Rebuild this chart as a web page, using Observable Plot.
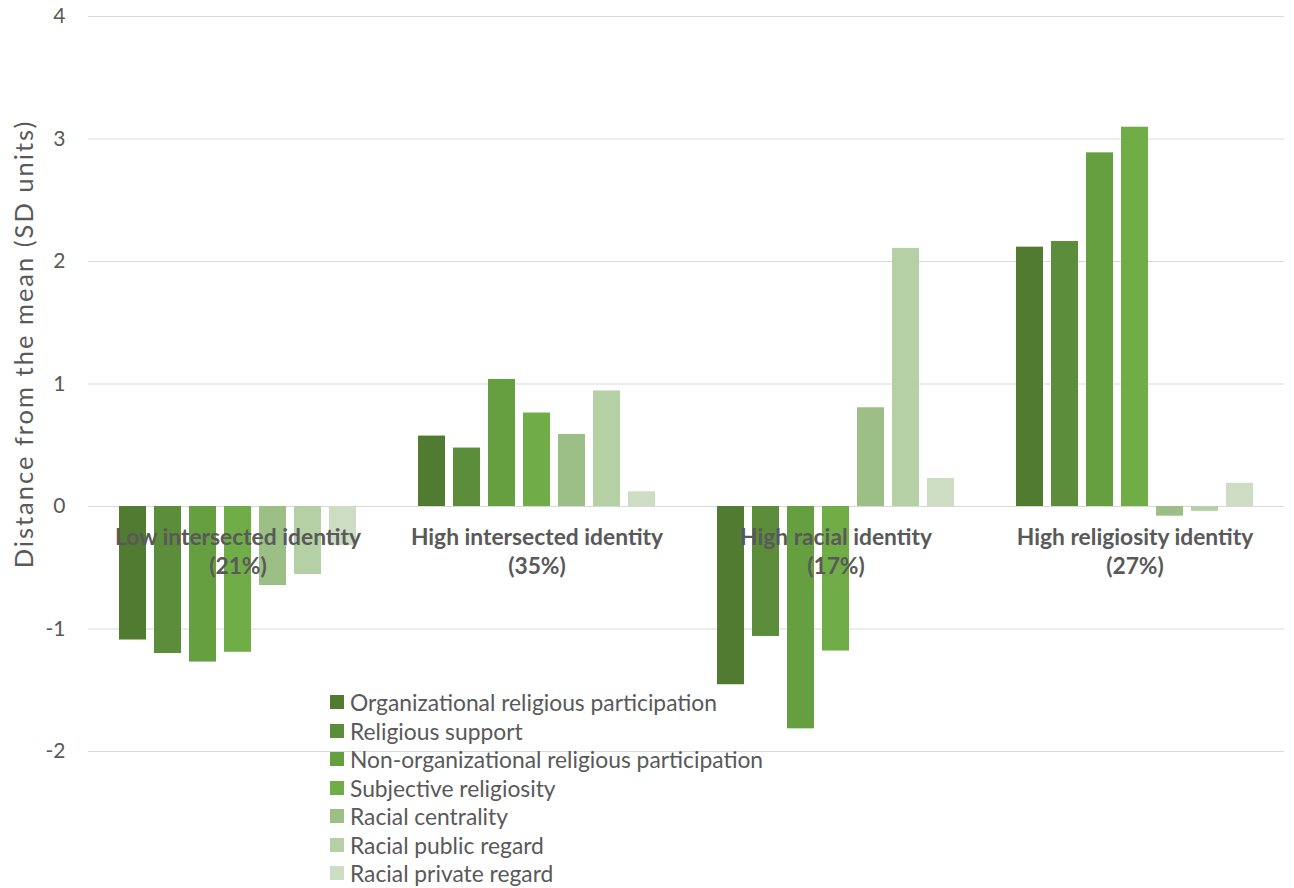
<!DOCTYPE html>
<html>
<head>
<meta charset="utf-8">
<script src="https://cdn.jsdelivr.net/npm/d3@7"></script>
<script src="https://cdn.jsdelivr.net/npm/@observablehq/plot@0.6"></script>
<style>
  html, body { margin: 0; padding: 0; background: #fff; }
  #wrap { position: relative; width: 1294px; height: 888px; font-family: Lato, "Open Sans", sans-serif; }
  #chart { position: absolute; left: 0; top: 0; }
  #ytitle { position: absolute; left: 23px; top: 344px; transform: translate(-50%, -50%) rotate(-90deg); white-space: nowrap; font-size: 25.5px; letter-spacing: 2px; color: #595959; }
  #legend { position: absolute; left: 330px; top: 688px; font-size: 22.8px; color: #595959; }
  .lg-item { display: flex; align-items: center; height: 28.5px; }
  .lg-sw { width: 14px; height: 14px; margin-right: 6px; }
</style>
</head>
<body>
<div id="wrap">
  <div id="chart"></div>
  <div id="ytitle"></div>
  <div id="legend"></div>
</div>
<script>
const groups = [
  "Low intersected identity\n(21%)",
  "High intersected identity\n(35%)",
  "High racial identity\n(17%)",
  "High religiosity identity\n(27%)"
];
const series = [
  "Organizational religious participation",
  "Religious support",
  "Non-organizational religious participation",
  "Subjective religiosity",
  "Racial centrality",
  "Racial public regard",
  "Racial private regard"
];
const colors = ["#507B31", "#5B8D3A", "#669F40", "#70AD47", "#9BBF85", "#B5D0A5", "#CCDDC3"];
// values per group, in series order
const lowIntersected = [-1.09, -1.20, -1.27, -1.19, -0.645, -0.555, -0.32];
const highIntersected = [0.575, 0.477, 1.037, 0.763, 0.588, 0.943, 0.12];
const highRacial = [-1.455, -1.061, -1.815, -1.18, 0.806, 2.107, 0.229];
const highReligiosity = [2.117, 2.163, 2.887, 3.096, -0.079, -0.04, 0.19];
const yTicks = [-2, -1, 0, 1, 2, 3, 4];
const yTitle = "Distance from the mean (SD units)";

const valueSets = [lowIntersected, highIntersected, highRacial, highReligiosity];
const rows = [];
groups.forEach((g, gi) => series.forEach((s, si) => rows.push({group: g, series: s, value: valueSets[gi][si]})));

const chart = Plot.plot({
  width: 1294,
  height: 888,
  marginLeft: 88,
  marginRight: 10,
  marginTop: 16,
  marginBottom: 137,
  style: {fontFamily: "Lato, 'Open Sans', sans-serif", fontSize: "21px", color: "#595959", background: "#fff"},
  fx: {domain: groups, padding: 0, axis: null},
  x: {domain: series, paddingInner: 0.235, paddingOuter: 0.85, axis: null},
  y: {domain: [-2, 4], ticks: yTicks, label: null},
  color: {domain: series, range: colors},
  marks: [
    Plot.gridY(yTicks, {stroke: "#d9d9d9", strokeOpacity: 1, strokeWidth: 1}),
    Plot.axisY(yTicks, {tickSize: 0, tickPadding: 23, fontSize: 21, fill: "#595959", tickFormat: d => d < 0 ? "-" + Math.abs(d) : String(d), label: null}),
    Plot.barY(rows, {fx: "group", x: "series", y: "value", fill: "series"}),
    Plot.text(groups, {fx: d => d, y: 0, text: d => d, lineAnchor: "top", dy: 17, lineHeight: 1.3, fontWeight: "bold", fontSize: 22.8, fill: "#595959"})
  ]
});
document.getElementById("chart").appendChild(chart);
document.getElementById("ytitle").textContent = yTitle;

const colorScale = chart.scale("color");
const leg = document.getElementById("legend");
colorScale.domain.forEach((s, i) => {
  const item = document.createElement("div");
  item.className = "lg-item";
  const sw = document.createElement("div");
  sw.className = "lg-sw";
  sw.style.background = colorScale.range[i];
  const lab = document.createElement("span");
  lab.textContent = s;
  item.appendChild(sw);
  item.appendChild(lab);
  leg.appendChild(item);
});
</script>
</body>
</html>
